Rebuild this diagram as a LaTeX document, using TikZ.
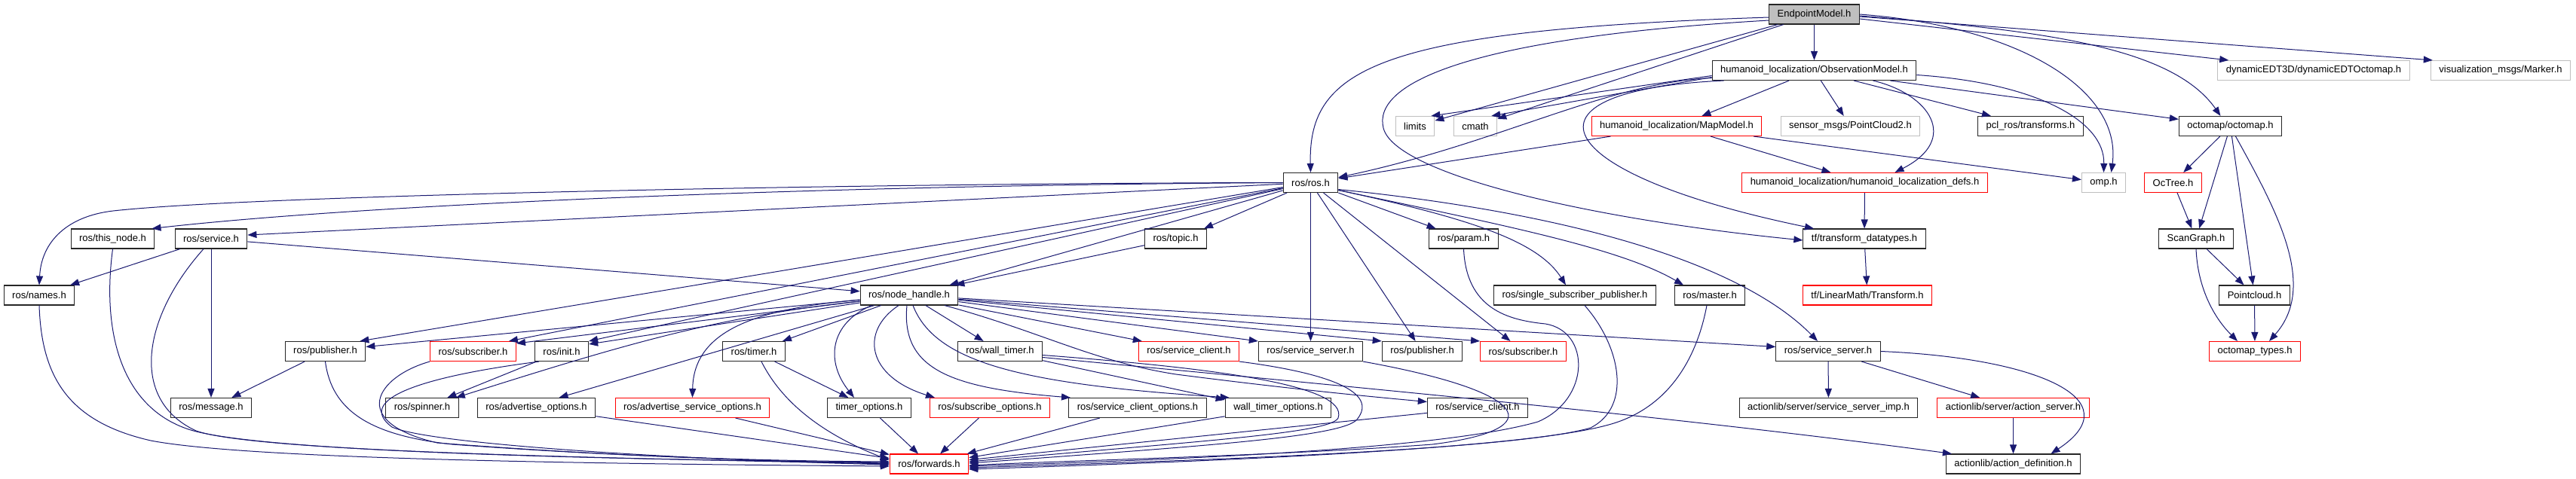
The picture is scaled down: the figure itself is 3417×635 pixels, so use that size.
\documentclass[tikz,border=0pt]{standalone}
\usepackage{fontspec}
\newfontfamily\lsans{Liberation Sans}
\usetikzlibrary{arrows.meta}
\definecolor{edgeblue}{RGB}{25,25,112}
\tikzset{
 nd/.style={draw=black!85, line width=1.1pt, fill=white, minimum height=26pt, inner xsep=11pt, inner ysep=0pt, font={\lsans\fontsize{13pt}{15pt}\selectfont}, text=black},
 nb/.style={nd},
 nr/.style={nd, draw=red},
 ng/.style={nd, draw=black!25},
 ne/.style={nd, fill=black!25},
 e/.style={draw=edgeblue, line width=1pt, -{Triangle[length=12pt,width=9pt]}},
}
\begin{document}
\begin{tikzpicture}[x=1pt,y=-1pt]
\useasboundingbox (0,0) rectangle (3417,635);
% row 0
\node[ne] (E) at (2406.5,19) {EndpointModel.h};
% row 1
\node[nb] (obs) at (2406.5,93.5) {humanoid\_localization/ObservationModel.h};
\node[ng] (dyn) at (3069,93.5) {dynamicEDT3D/dynamicEDTOctomap.h};
\node[ng] (marker) at (3317,93.5) {visualization\_msgs/Marker.h};
% row 2
\node[ng] (limits) at (1877,167.5) {limits};
\node[ng] (cmath) at (1957,167.5) {cmath};
\node[nr] (mapmodel) at (2224,167.5) {humanoid\_localization/MapModel.h};
\node[ng] (pc2) at (2454.5,167.5) {sensor\_msgs/PointCloud2.h};
\node[nb] (pcl) at (2693.5,167.5) {pcl\_ros/transforms.h};
\node[nb] (octomap) at (2958.5,167.5) {octomap/octomap.h};
% row 3
\node[nb] (ros) at (1738.5,242.5) {ros/ros.h};
\node[nr] (defs) at (2473.5,242.5) {humanoid\_localization/humanoid\_localization\_defs.h};
\node[ng] (omp) at (2790.5,242.5) {omp.h};
\node[nr] (octree) at (2882.5,242.5) {OcTree.h};
% row 4
\node[nb] (thisnode) at (149.5,317) {ros/this\_node.h};
\node[nb] (service) at (280,317) {ros/service.h};
\node[nb] (topic) at (1559.5,317) {ros/topic.h};
\node[nb] (param) at (1941.5,317) {ros/param.h};
\node[nb] (tfdt) at (2473,317) {tf/transform\_datatypes.h};
\node[nb] (scangraph) at (2913,317) {ScanGraph.h};
% row 5
\node[nb] (names) at (52,392) {ros/names.h};
\node[nb] (nh) at (1206,392) {ros/node\_handle.h};
\node[nb] (ssp) at (2089,392) {ros/single\_subscriber\_publisher.h};
\node[nb] (master) at (2268,392) {ros/master.h};
\node[nr] (lmt) at (2477,392) {tf/LinearMath/Transform.h};
\node[nb] (pointcloud) at (2990.5,392) {Pointcloud.h};
% row 6
\node[nb] (pub1) at (431.5,466.5) {ros/publisher.h};
\node[nr] (sub1) at (627.5,466.5) {ros/subscriber.h};
\node[nb] (init) at (745,466.5) {ros/init.h};
\node[nb] (timer) at (1000,466.5) {ros/timer.h};
\node[nb] (walltimer) at (1326.5,466.5) {ros/wall\_timer.h};
\node[nr] (scred) at (1577,466.5) {ros/service\_client.h};
\node[nb] (ss1) at (1738.5,466.5) {ros/service\_server.h};
\node[nb] (pub2) at (1886.5,466.5) {ros/publisher.h};
\node[nr] (sub2) at (2020.5,466.5) {ros/subscriber.h};
\node[nb] (ss2) at (2425,466.5) {ros/service\_server.h};
\node[nr] (octypes) at (2991,466.5) {octomap\_types.h};
% row 7
\node[nb] (message) at (280,541.5) {ros/message.h};
\node[nb] (spinner) at (560,541.5) {ros/spinner.h};
\node[nb] (advopt) at (711.5,541.5) {ros/advertise\_options.h};
\node[nr] (advsrvopt) at (918.5,541.5) {ros/advertise\_service\_options.h};
\node[nb] (timeropt) at (1153,541.5) {timer\_options.h};
\node[nr] (subopt) at (1313,541.5) {ros/subscribe\_options.h};
\node[nb] (scopt) at (1509,541.5) {ros/service\_client\_options.h};
\node[nb] (wtopt) at (1695.5,541.5) {wall\_timer\_options.h};
\node[nb] (scblack) at (1960,541.5) {ros/service\_client.h};
\node[nb] (ssimp) at (2425.5,541.5) {actionlib/server/service\_server\_imp.h};
\node[nr] (actserver) at (2670.5,541.5) {actionlib/server/action\_server.h};
% row 8
\node[nr] (forwards) at (1232.5,616) {ros/forwards.h};
\node[nb] (actdef) at (2670.5,616) {actionlib/action\_definition.h};

% ---- EndpointModel
\draw[e] (E) -- (obs);
\draw[e] ([yshift=-4pt]E.west) .. controls (1830,40) and (1735,90) .. (ros.north);
\draw[e] (E) -- (limits);
\draw[e] (E) -- (cmath);
\draw[e] ([yshift=-8pt]E.west) .. controls (1950,50) and (1820,110) .. (1835,170) .. controls (1850,230) and (2100,290) .. ([yshift=-2pt]tfdt.west);
\draw[e] (E.east) .. controls (2680,35) and (2815,120) .. ([xshift=10pt]omp.north);
\draw[e] ([yshift=-2pt]E.east) .. controls (2700,40) and (2880,60) .. ([xshift=-13pt]octomap.north);
\draw[e] ([yshift=-6pt]E.east) -- ([xshift=15pt]dyn.north west);
\draw[e] ([yshift=-3pt]E.east) -- ([xshift=3pt]marker.north west);
% ---- ObservationModel
\draw[e] ([yshift=-10pt]obs.west) .. controls (2130,110) and (1990,190) .. ([yshift=7pt]ros.east);
\draw[e] ([yshift=-7pt]obs.west) -- ([xshift=-5pt]limits.north east);
\draw[e] ([yshift=-9pt]obs.west) -- ([xshift=-8pt]cmath.north east);
\draw[e] (obs) -- (mapmodel);
\draw[e] (obs) -- (pc2);
\draw[e] (obs) -- (pcl);
\draw[e] ([xshift=78pt]obs.south) .. controls (2560,125) and (2600,185) .. ([xshift=40pt]defs.north);
\draw[e] ([yshift=-6pt]obs.east) .. controls (2700,110) and (2792,160) .. (omp.north);
\draw[e] (obs) -- (octomap);
\draw[e] ([xshift=-120pt]obs.south) .. controls (2000,120) and (2050,230) .. ([xshift=-67pt]tfdt.north);
% ---- MapModel, defs, tf
\draw[e] (mapmodel) -- (ros);
\draw[e] (mapmodel) -- (defs);
\draw[e] (mapmodel) -- (omp);
\draw[e] (defs) -- (tfdt);
\draw[e] (tfdt) -- (lmt);
% ---- octomap
\draw[e] (octomap) -- (octree);
\draw[e] (octomap) -- (scangraph);
\draw[e] (octomap) -- (pointcloud);
\draw[e] ([xshift=7pt]octomap.south) .. controls (3020,280) and (3075,380) .. ([xshift=19pt]octypes.north);
\draw[e] (octree) -- (scangraph);
\draw[e] (scangraph) -- (pointcloud);
\draw[e] (scangraph.south) .. controls (2915,380) and (2935,420) .. ([xshift=-23pt]octypes.north);
\draw[e] (pointcloud) -- (octypes);
% ---- ros/ros.h
\draw[e] (ros.west) .. controls (1200,243) and (350,258) .. (150,280) .. controls (90,287) and (55,320) .. (names.north);
\draw[e] (ros.west) .. controls (1100,246) and (500,270) .. ([xshift=-4pt]thisnode.north east);
\draw[e] (ros) -- ([yshift=5pt]service.east);
\draw[e] (ros) -- ([xshift=-8pt]pub1.north east);
\draw[e] (ros) -- ([xshift=-10pt]sub1.north east);
\draw[e] (ros) -- (init.north east);
\draw[e] (ros) -- ([xshift=-12pt]nh.north east);
\draw[e] (ros) -- ([xshift=-4pt]topic.north east);
\draw[e] (ros) -- (param);
\draw[e] ([yshift=-10pt]ros.east) .. controls (1950,290) and (2040,320) .. ([xshift=-12pt]ssp.north);
\draw[e] ([yshift=-10pt]ros.east) .. controls (2000,300) and (2150,330) .. ([xshift=-35pt]master.north);
\draw[e] (ros) -- (ss1);
\draw[e] (ros) -- (pub2);
\draw[e] (ros) -- (sub2);
\draw[e] ([yshift=-9pt]ros.east) .. controls (2150,290) and (2330,370) .. ([xshift=-14pt]ss2.north);
% ---- topic, service
\draw[e] (topic) -- ([xshift=-4pt]nh.north east);
\draw[e] (service) -- (names);
\draw[e] (service) -- (message);
\draw[e] (service) -- (nh);
\draw[e] (pub1) -- (message);
% ---- node_handle
\draw[e] (nh) -- ([yshift=6pt]pub1.east);
\draw[e] (nh) -- ([yshift=-3pt]sub1.north east);
\draw[e] (nh) -- ([yshift=-4pt]init.north east);
\draw[e] ([yshift=-8pt]nh.west) .. controls (950,420) and (820,460) .. ([xshift=-4pt]spinner.north east);
\draw[e] (init) -- (spinner);
\draw[e] (nh) -- ([xshift=30pt]advopt.north);
\draw[e] ([yshift=-6pt]nh.west) .. controls (1000,410) and (920,440) .. (advsrvopt.north);
\draw[e] (nh) -- ([xshift=-4pt]timer.north east);
\draw[e] ([xshift=-50pt]nh.south) .. controls (1100,430) and (1095,480) .. ([xshift=-20pt]timeropt.north);
\draw[e] (timer) -- (timeropt);
\draw[e] ([xshift=-14pt]nh.south) .. controls (1140,440) and (1150,500) .. ([xshift=-73pt]subopt.north);
\draw[e] ([xshift=-3pt]nh.south) .. controls (1195,490) and (1260,515) .. ([xshift=-89pt]scopt.north);
\draw[e] ([xshift=5pt]nh.south) .. controls (1240,480) and (1350,510) .. ([xshift=6pt]wtopt.north west);
\draw[e] (walltimer) -- ([yshift=-3pt]wtopt.north west);
\draw[e] (nh) -- (walltimer);
\draw[e] (nh) -- ([xshift=5pt]scred.north west);
\draw[e] (nh) -- (ss1.north west);
\draw[e] (nh) -- (pub2.north west);
\draw[e] (nh) -- (sub2.north west);
\draw[e] (nh) -- ([yshift=6pt]ss2.west);
\draw[e] ([xshift=47pt]nh.south) .. controls (1380,440) and (1450,480) .. (1560,497) .. controls (1700,515) and (1800,525) .. ([yshift=8pt]scblack.west);
% ---- into forwards.h
\draw[e] (names.south) .. controls (55,500) and (90,560) .. (200,585) .. controls (330,610) and (800,616) .. ([yshift=-3pt]forwards.west);
\draw[e] (thisnode.south) .. controls (135,440) and (160,540) .. (250,570) .. controls (340,600) and (800,610) .. ([yshift=2pt]forwards.west);
\draw[e] ([xshift=-10pt]service.south) .. controls (190,420) and (170,530) .. (260,572) .. controls (340,600) and (800,608) .. (forwards.west);
\draw[e] (pub1.south) .. controls (440,545) and (490,578) .. (600,590) .. controls (800,605) and (1000,612) .. ([yshift=3pt]forwards.west);
\draw[e] (sub1.south west) .. controls (500,500) and (460,560) .. (580,588) .. controls (800,605) and (1000,612) .. ([yshift=1pt]forwards.west);
\draw[e] ([xshift=-30pt]init.south) .. controls (560,500) and (470,530) .. (520,567) .. controls (570,590) and (900,610) .. ([yshift=-1pt]forwards.west);
\draw[e] (advopt) -- (forwards);
\draw[e] (advsrvopt) -- (forwards);
\draw[e] ([xshift=10pt]timer.south) .. controls (1040,540) and (1100,580) .. ([yshift=5pt]forwards.west);
\draw[e] (timeropt) -- (forwards);
\draw[e] (subopt) -- (forwards);
\draw[e] (scopt) -- (forwards);
\draw[e] (wtopt) -- (forwards);
\draw[e] (scblack) -- (forwards);
\draw[e] ([yshift=-5pt]walltimer.east) .. controls (1600,488) and (1790,510) .. (1775,555) .. controls (1765,575) and (1600,585) .. ([yshift=3pt]forwards.east);
\draw[e] (scred.south east) .. controls (1760,495) and (1830,520) .. (1800,557) .. controls (1780,580) and (1600,592) .. ([yshift=1pt]forwards.east);
\draw[e] (ss1.south east) .. controls (2030,520) and (2060,570) .. (1900,590) .. controls (1700,605) and (1400,612) .. ([yshift=-2pt]forwards.east);
\draw[e] (param.south) .. controls (1945,410) and (2000,425) .. (2050,430) .. controls (2110,440) and (2110,530) .. (2040,560) .. controls (1900,600) and (1500,612) .. ([yshift=-3pt]forwards.east);
\draw[e] ([xshift=13pt]ssp.south) .. controls (2150,460) and (2165,540) .. (2110,568) .. controls (2000,600) and (1500,614) .. ([yshift=-5pt]forwards.east);
\draw[e] ([xshift=-4pt]master.south) .. controls (2250,480) and (2210,545) .. (2130,565) .. controls (2000,600) and (1500,616) .. ([yshift=-7pt]forwards.east);
% ---- service_server / actionlib
\draw[e] ([yshift=-8pt]walltimer.east) .. controls (1700,505) and (2200,550) .. ([xshift=8pt]actdef.north west);
\draw[e] (ss2) -- (ssimp);
\draw[e] (ss2) -- (actserver);
\draw[e] (ss2.east) .. controls (2700,475) and (2830,530) .. ([xshift=50pt]actdef.north);
\draw[e] (actserver) -- (actdef);
\end{tikzpicture}
\end{document}
